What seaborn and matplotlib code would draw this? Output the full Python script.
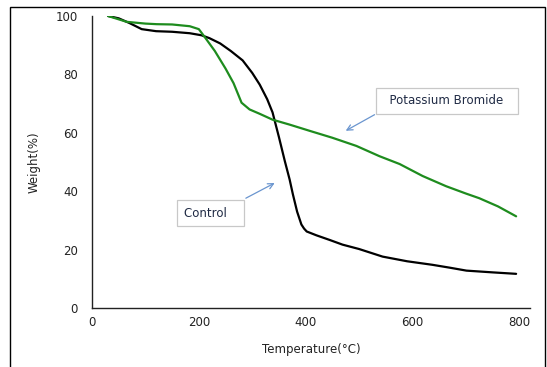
import matplotlib
matplotlib.use("Agg")
import matplotlib.pyplot as plt
import seaborn as sns
import pandas as pd
from matplotlib.patches import Rectangle

# Data
control_temp = [30, 50, 70, 93, 120, 150, 183, 205, 220, 240, 260, 282, 300, 314, 328, 338, 350, 361, 370, 376, 384, 392, 397, 402, 420, 445, 469, 500, 544, 590, 637, 670, 701, 750, 794]
control_wt = [100, 99.2, 97.6, 95.5, 94.8, 94.6, 94.1, 93.4, 92.4, 90.6, 88.0, 84.8, 80.5, 76.5, 71.5, 67.0, 58.5, 50.3, 44.0, 39.0, 33.0, 28.6, 27.2, 26.2, 24.9, 23.3, 21.7, 20.2, 17.6, 16.0, 14.8, 13.8, 12.8, 12.2, 11.7]
kbr_temp = [30, 65, 100, 121, 150, 183, 200, 211, 230, 250, 265, 280, 295, 314, 338, 370, 407, 450, 495, 538, 576, 619, 663, 700, 725, 760, 794]
kbr_wt = [100, 98.0, 97.4, 97.2, 97.1, 96.5, 95.5, 92.8, 88.0, 82.0, 77.0, 70.3, 68.0, 66.5, 64.5, 62.8, 60.7, 58.3, 55.5, 52.0, 49.3, 45.2, 41.7, 39.2, 37.6, 34.8, 31.4]
series_names = ["Control", "Potassium Bromide"]
x_ticks = [0, 200, 400, 600, 800]
y_ticks = [0, 20, 40, 60, 80, 100]

df = pd.concat([
    pd.DataFrame({"Temperature": control_temp, "Weight": control_wt, "Sample": series_names[0]}),
    pd.DataFrame({"Temperature": kbr_temp, "Weight": kbr_wt, "Sample": series_names[1]}),
])

sns.set_style("white")
plt.rcParams['font.family'] = ['DejaVu Sans']

fig = plt.figure(figsize=(5.47, 3.67), dpi=100)
ax = fig.add_axes([92/547, 1-308/367, (530-92)/547, (308-16)/367])

sns.lineplot(data=df, x="Temperature", y="Weight", hue="Sample", sort=False,
             palette={"Control": "#000000", "Potassium Bromide": "#1E8C1E"},
             linewidth=1.6, legend=False, ax=ax, estimator=None)

ax.set_xlim(0, 820)
ax.set_ylim(0, 100)
ax.set_xticks(x_ticks)
ax.set_yticks(y_ticks)
ax.tick_params(axis='x', direction='in', length=4, labelsize=8.5, colors='#222222', pad=6, width=0.8)
ax.tick_params(axis='y', direction='out', length=4, labelsize=8.5, colors='#222222', pad=6, width=0.8)
for s in ['top', 'right']:
    ax.spines[s].set_visible(False)
for s in ['left', 'bottom']:
    ax.spines[s].set_color('#222222')
    ax.spines[s].set_linewidth(1.0)
ax.set_xlabel("Temperature(\u00b0C)", fontsize=8.5, color='#222222', labelpad=10)
ax.set_ylabel("Weight(%)", fontsize=8.5, color='#222222', labelpad=11)

box = dict(boxstyle="square,pad=0.55", fc="white", ec="#C8C8C8", lw=0.9)
arrow = dict(arrowstyle="->", color="#6A95CF", lw=0.9, shrinkA=0, shrinkB=0)
ax.annotate("", xy=(342, 42.8), xytext=(288, 37.6), arrowprops=arrow)
ax.text(222, 32.4, "Control   ", ha='center', va='center', fontsize=8.5, color='#1F2A44', bbox=box)
ax.annotate("", xy=(475, 60.7), xytext=(529, 66.2), arrowprops=arrow)
ax.text(664, 71.0, "  Potassium Bromide  ", ha='center', va='center', fontsize=8.5, color='#1F2A44', bbox=box)

fig.patches.append(Rectangle((10/547, -0.1), (545-10)/547, 1.1 - 7/367, transform=fig.transFigure,
                             fill=False, ec='black', lw=1.0))

fig.savefig("out.png", dpi=100)
